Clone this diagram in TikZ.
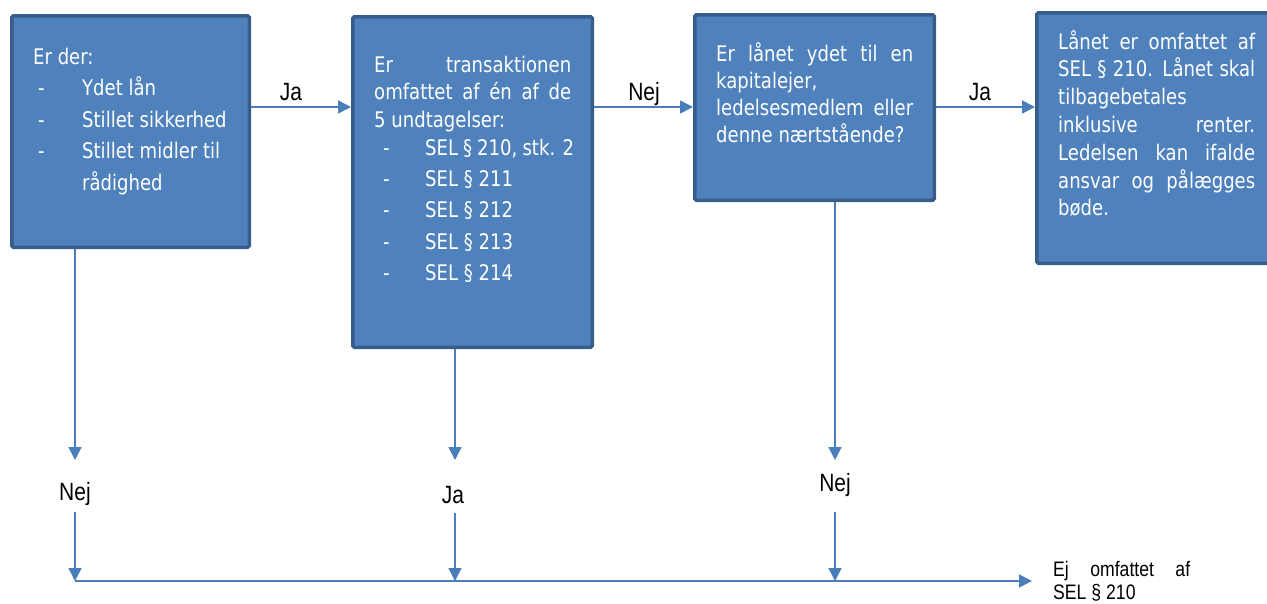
\documentclass[tikz,border=0pt]{standalone}
\usepackage{fontspec}
\setmainfont{DejaVu Sans}[FakeStretch=0.84, Ligatures=NoCommon]
\newfontfamily\narrowfont[FakeStretch=0.84]{Liberation Sans}
\usetikzlibrary{arrows.meta}
\definecolor{boxfill}{HTML}{4F81BD}
\definecolor{boxedge}{HTML}{385D8A}
\definecolor{linkblue}{HTML}{4A7EBB}
% one justified line of a fixed width
\newcommand{\fullline}[2]{\makebox[#1][s]{#2}\par}
% a dashed list entry: dash indent, text indent
\newcommand{\dashitem}[3]{\hspace*{#1}\makebox[#2][l]{-}#3\par}
\tikzset{
  box/.style={draw=boxedge, fill=boxfill, line width=3.5pt, rounded corners=1.5pt, inner sep=0pt},
  boxtext/.style={text=white, inner sep=0pt, anchor=base west,
    font=\fontsize{21.5}{27.7}\selectfont},
  answer/.style={inner sep=0pt, anchor=base, font=\narrowfont\fontsize{25}{28}\selectfont},
  outcome/.style={inner sep=0pt, anchor=base west, font=\narrowfont\fontsize{21}{23}\selectfont},
  link/.style={draw=linkblue, line width=1.6pt, -{Triangle[length=13pt,width=13pt]}},
}
\begin{document}
\begin{tikzpicture}[x=1pt, y=-1pt]
\useasboundingbox (0,0) rectangle (1267,603);

% decision boxes
\node[box, minimum width=237.5pt, minimum height=231.5pt] (b1) at (130.5,131.5) {};
\node[box, minimum width=239.5pt, minimum height=330.5pt] (b2) at (472.5,182) {};
\node[box, minimum width=239.5pt, minimum height=185.5pt] (b3) at (814.5,107.5) {};
\node[box, minimum width=261.5pt, minimum height=250.5pt] (b4) at (1167.5,138) {};

% box texts
\node[boxtext] (t1) at (33,64) {\vtop{\hsize=215pt\parindent=0pt\parskip=0pt
  Er der:\par
  \baselineskip=31.5pt
  \dashitem{5pt}{44pt}{Ydet lån}
  \dashitem{5pt}{44pt}{Stillet sikkerhed}
  \dashitem{5pt}{44pt}{Stillet midler til}
  \hspace*{49pt}rådighed\par}};

\node[boxtext] (t2) at (374,72) {\vtop{\hsize=200pt\parindent=0pt\parskip=0pt
  \fullline{197pt}{Er transaktionen}
  \fullline{197pt}{omfattet af én af de}
  5 undtagelser:\par
  \dashitem{9pt}{42pt}{SEL § 210, stk. 2}
  \baselineskip=31.3pt
  \dashitem{9pt}{42pt}{SEL § 211}
  \dashitem{9pt}{42pt}{SEL § 212}
  \dashitem{9pt}{42pt}{SEL § 213}
  \dashitem{9pt}{42pt}{SEL § 214}}};

\node[boxtext] (t3) at (716,61) {\vtop{\hsize=200pt\parindent=0pt\parskip=0pt
  \baselineskip=27.3pt
  \fullline{197pt}{Er lånet ydet til en}
  kapitalejer,\par
  \fullline{197pt}{ledelsesmedlem eller}
  denne nærtstående?\par}};

\node[boxtext] (t4) at (1058,49) {\vtop{\hsize=200pt\parindent=0pt\parskip=0pt
  \baselineskip=27.8pt
  \fullline{197pt}{Lånet er omfattet af}
  \fullline{197pt}{SEL § 210. Lånet skal}
  tilbagebetales\par
  \fullline{197pt}{inklusive renter.}
  \fullline{197pt}{Ledelsen kan ifalde}
  \fullline{197pt}{ansvar og pålægges}
  bøde.\par}};

% answers
\node[answer] (ja1) at (291,100) {Ja};
\node[answer] (nej1) at (644,100) {Nej};
\node[answer] (ja2) at (980,100) {Ja};
\node[answer] (nej2) at (75,500) {Nej};
\node[answer] (ja3) at (453,503) {Ja};
\node[answer] (nej3) at (835,491) {Nej};

% final outcome
\node[outcome] (ej) at (1053,576) {\vtop{\hsize=150pt\parindent=0pt\parskip=0pt
  \fullline{137pt}{Ej omfattet af}
  SEL § 210\par}};

% routing points
\coordinate (row) at (0,107);
\coordinate (a1) at (75,460);
\coordinate (a2) at (455,460);
\coordinate (a3) at (835,460);
\coordinate (s1) at (75,512);
\coordinate (s2) at (455,513);
\coordinate (s3) at (835,512);
\coordinate (j1) at (75,581);
\coordinate (j2) at (455,581);
\coordinate (j3) at (835,581);

% top row
\draw[link] (b1.east |- row) -- (b2.west |- row);
\draw[link] (b2.east |- row) -- (b3.west |- row);
\draw[link] (b3.east |- row) -- (b4.west |- row);

% downward branches
\draw[link] (a1 |- b1.south) -- (a1);
\draw[link] (a2 |- b2.south) -- (a2);
\draw[link] (a3 |- b3.south) -- (a3);
\draw[link] (s1) -- (j1);
\draw[link] (s2) -- (j2);
\draw[link] (s3) -- (j3);

% collecting line
\draw[link, shorten >=21pt] (j1) -- (ej.west |- j1);
\end{tikzpicture}
\end{document}
